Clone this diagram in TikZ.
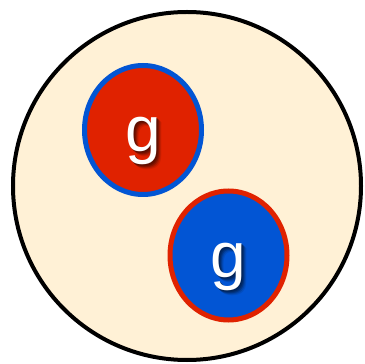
\documentclass[tikz,border=0pt]{standalone}
\usepackage{fontspec}
\setmainfont{Liberation Sans}
\usepackage{tikz}
\usetikzlibrary{shapes.geometric,positioning}

\definecolor{hadronfill}{RGB}{255,241,214}
\definecolor{gred}{RGB}{224,34,0}
\definecolor{gblue}{RGB}{2,85,212}
\colorlet{gredshadow}{gred!35!black}
\colorlet{gblueshadow}{gblue!35!black}

% one shifted copy of the letter, and the letter with its soft shadow
\newcommand\glayer[2]{\rlap{\kern#1pt\raisebox{-#1pt}{\color{#2}g}}}
\newcommand\gshadowed[2]{\smash{\glayer{5}{#1!85!#2}\glayer{4}{#1!65!#2}\glayer{3}{#1!40!#2}\glayer{2}{#1!20!#2}\glayer{1}{#1!10!#2}}g}

\begin{document}
\begin{tikzpicture}[x=1pt, y=1pt,
    gluon/.style={ellipse, minimum width=117pt, minimum height=129pt, line width=5pt, inner sep=0pt},
    glabel/.style={text=white, font=\fontsize{64}{64}\selectfont, inner sep=0pt}]
  \useasboundingbox (0,0) rectangle (364,364);
  \node[circle, draw=black, fill=hadronfill, line width=4pt, minimum size=348pt, inner sep=0pt] (hadron) at (187,178) {};
  \node[gluon, fill=gred, draw=gblue] (g1) at (143,234) {};
  \node[gluon, fill=gblue, draw=gred] (g2) at (228.5,108.5) {};
  \node[glabel] (g1-label) at ([yshift=-11pt]g1.center) {\gshadowed{gred}{gredshadow}};
  \node[glabel] (g2-label) at ([yshift=-11pt]g2.center) {\gshadowed{gblue}{gblueshadow}};
\end{tikzpicture}
\end{document}
